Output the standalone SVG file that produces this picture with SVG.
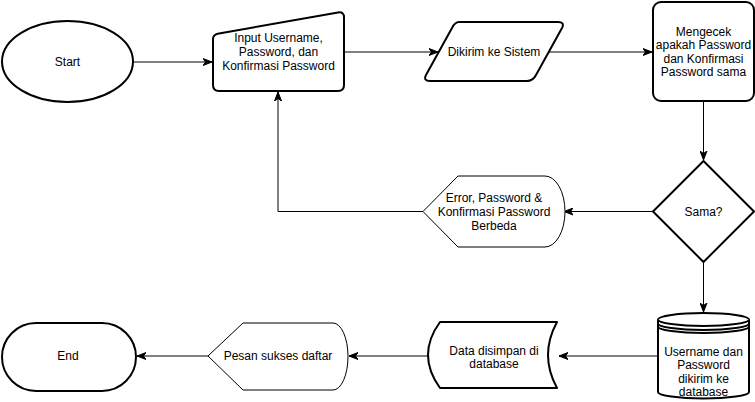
<svg xmlns="http://www.w3.org/2000/svg" width="755" height="402" viewBox="0 0 755 402">
<defs>
<style>
.s{fill:#fff;stroke:#000;stroke-width:2;stroke-linejoin:round}
.t{fill:#fff;stroke:#000;stroke-width:1}
.e{fill:none;stroke:#000;stroke-width:1}
text{font-family:"Liberation Sans",Arial,sans-serif;font-size:12px;fill:#000;text-anchor:middle;dominant-baseline:central}
</style>
<marker id="a" markerWidth="10" markerHeight="8" refX="9" refY="4" orient="auto" markerUnits="userSpaceOnUse">
<path d="M0,0.5 L9,4 L0,7.5 L2.5,4 Z" fill="#000" stroke="#000" stroke-width="1"/>
</marker>
</defs>
<rect width="755" height="402" fill="#fff"/>
<g id="connectors">
<path class="e" d="M133,62 L212,62" marker-end="url(#a)"/>
<path class="e" d="M344,52 L438,52" marker-end="url(#a)"/>
<path class="e" d="M548,52 L652,52" marker-end="url(#a)"/>
<path class="e" d="M703.5,101 L703.5,160" marker-end="url(#a)"/>
<path class="e" d="M653,211.5 L564,211.5" marker-end="url(#a)"/>
<path class="e" d="M423,211.5 L278,211.5 L278,92" marker-end="url(#a)"/>
<path class="e" d="M703.5,262 L703.5,312" marker-end="url(#a)"/>
<path class="e" d="M658,356 L559,356" marker-end="url(#a)"/>
<path class="e" d="M428,356 L349,356" marker-end="url(#a)"/>
<path class="e" d="M208,356 L137,356" marker-end="url(#a)"/>
</g>
<g id="start">
<ellipse class="s" cx="67.5" cy="61.5" rx="65.5" ry="40.5"/>
<text x="67.5" y="61.5">Start</text>
</g>
<g id="input">
<path class="s" d="M219,33.5 L338,12.5 Q344,11.5 344,17.5 L344,85 Q344,91 338,91 L219,91 Q213,91 213,85 L213,39 Q213,34.5 219,33.5 Z"/>
<text x="278.5" y="38">Input Username,</text>
<text x="278.5" y="52">Password, dan</text>
<text x="278.5" y="66">Konfirmasi Password</text>
</g>
<g id="kirim">
<path class="s" d="M459,22 L558,22 Q565,22 562,28 L536,75 Q533,81 527,81 L430,81 Q423,81 426,75 L452,28 Q455,22 459,22 Z"/>
<text x="494" y="52">Dikirim ke Sistem</text>
</g>
<g id="cek">
<rect class="s" x="653" y="2" width="101" height="99" rx="8"/>
<text x="703.5" y="31.5">Mengecek</text>
<text x="703.5" y="45">apakah Password</text>
<text x="703.5" y="58.5">dan Konfirmasi</text>
<text x="703.5" y="72">Password sama</text>
</g>
<g id="sama">
<path class="s" d="M703.5,161 L754,211.5 L703.5,262 L653,211.5 Z"/>
<text x="703.5" y="211.5">Sama?</text>
</g>
<g id="error">
<path class="t" d="M423,211.5 L458,176 L545,176 A20,35.5 0 0 1 545,247 L458,247 Z"/>
<text x="494" y="198">Error, Password &amp;</text>
<text x="494" y="212">Konfirmasi Password</text>
<text x="494" y="226">Berbeda</text>
</g>
<g id="db">
<path class="s" d="M658,319.5 A45.5,6.5 0 0 1 749,319.5 L749,392 A45.5,6.5 0 0 1 658,392 Z"/>
<path class="s" fill="none" d="M658,319.5 A45.5,6.5 0 0 0 749,319.5"/>
<path class="s" style="fill:none" d="M658,323.5 A45.5,6.5 0 0 0 749,323.5"/>
<path class="s" style="fill:none" d="M658,326.5 A45.5,6.5 0 0 0 749,326.5"/>
<text x="703.5" y="352">Username dan</text>
<text x="703.5" y="365">Password</text>
<text x="703.5" y="378.5">dikirim ke</text>
<text x="703.5" y="392">database</text>
</g>
<g id="simpan">
<path class="s" d="M440,322 L557,322 Q539,355 557,388 L440,388 Q416,355 440,322 Z"/>
<text x="494" y="351">Data disimpan di</text>
<text x="494" y="364">database</text>
</g>
<g id="pesan">
<path class="t" d="M208,356 L243,323 L333,323 A15,33.5 0 0 1 333,390 L243,390 Z"/>
<text x="278" y="356">Pesan sukses daftar</text>
</g>
<g id="end">
<rect class="s" x="2" y="323" width="134" height="68" rx="34" ry="34"/>
<text x="68" y="356">End</text>
</g>
</svg>
